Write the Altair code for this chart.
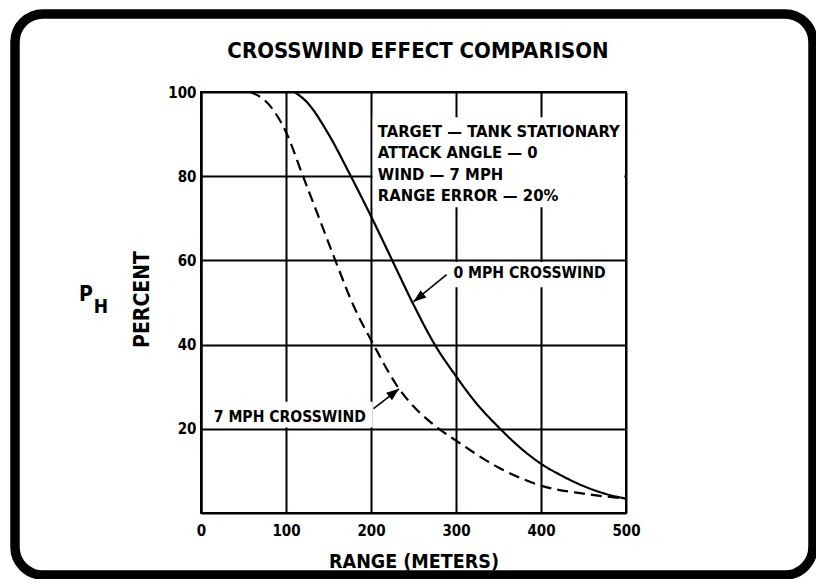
import altair as alt
import pandas as pd

# ---- data ----
ranges_0mph = [110, 125, 150, 175, 200, 225, 250, 275, 300, 325, 350, 375, 400, 425, 450, 475, 500]
ph_0mph = [100, 97.5, 90, 80.5, 70.5, 60, 49.5, 40, 32.5, 25.8, 20.4, 15.6, 11.7, 8.8, 6.4, 4.6, 3.4]

ranges_7mph = [58, 80, 100, 120, 140, 158, 180, 203, 233, 255, 280, 300, 350, 400, 450, 500]
ph_7mph = [100, 97, 90.5, 80, 69.5, 60, 49, 40, 29.5, 24.3, 20, 17.2, 10.8, 6.5, 4.6, 3.4]

x_ticks = [0, 100, 200, 300, 400, 500]
y_ticks = [20, 40, 60, 80, 100]

title_text = "CROSSWIND EFFECT COMPARISON"

note_lines = ["TARGET \u2014 TANK STATIONARY", "ATTACK ANGLE \u2014 0", "WIND \u2014 7 MPH", "RANGE ERROR \u2014 20%"]
note_x = [208, 208, 208, 208]
note_y = [90.4, 85.4, 80.2, 75.2]

label_text = ["0 MPH CROSSWIND", "7 MPH CROSSWIND"]
label_x = [297, 15]
label_y = [56.9, 22.8]

# arrows: tail -> tip
arrow_name = ["0 MPH", "7 MPH"]
arrow_tail_x = [289, 203]
arrow_tail_y = [56.6, 24.8]
arrow_tip_x = [250, 233]
arrow_tip_y = [50.2, 29.5]
arrow_angle = [232, 52]

# white boxes behind the text (grid lines are broken there)
box_x = [202, 290, 10]
box_x2 = [498, 484, 202]
box_y = [72.6, 53.6, 20.3]
box_y2 = [94, 59.6, 26.4]

FONT = "DejaVu Sans Condensed, Liberation Sans Narrow, Roboto, sans-serif"

curves = pd.DataFrame(
    {"range": ranges_0mph + ranges_7mph,
     "ph": ph_0mph + ph_7mph,
     "series": ["0 MPH"] * len(ranges_0mph) + ["7 MPH"] * len(ranges_7mph)}
)
notes = pd.DataFrame({"t": note_lines, "x": note_x, "y": note_y})
labels = pd.DataFrame({"t": label_text, "x": label_x, "y": label_y})
arrows = pd.DataFrame({"name": arrow_name, "x": arrow_tail_x, "y": arrow_tail_y,
                       "x2": arrow_tip_x, "y2": arrow_tip_y, "angle": arrow_angle})
boxes = pd.DataFrame({"x": box_x, "x2": box_x2, "y": box_y, "y2": box_y2})

xs = alt.Scale(domain=[0, 500], nice=False, zero=False)
ys = alt.Scale(domain=[0, 100], nice=False)

x_axis = alt.Axis(values=x_ticks, title="RANGE (METERS)", grid=True, ticks=False, labelFlush=False,
                  labelFont=FONT, labelFontWeight="bold", labelFontSize=15, labelPadding=10,
                  labelColor="black", titleFont=FONT, titleFontWeight="bold", titleFontSize=19.5,
                  titleColor="black", titleY=48, titleBaseline="middle",
                  domainColor="black", domainWidth=2, gridColor="black", gridWidth=2, gridOpacity=1)
y_axis = alt.Axis(values=y_ticks, title="PERCENT", grid=True, ticks=False, labelFlush=False,
                  labelFont=FONT, labelFontWeight="bold", labelFontSize=15, labelPadding=5,
                  labelColor="black", titleFont=FONT, titleFontWeight="bold", titleFontSize=21,
                  titleColor="black", titleAngle=270, titleX=-59, titleY=207,
                  titleAlign="center", titleBaseline="middle",
                  domainColor="black", domainWidth=2, gridColor="black", gridWidth=2, gridOpacity=1)

base = alt.Chart(curves)

frame = alt.Chart(pd.DataFrame({"a": [0]})).mark_rect(
    fill=None, stroke="black", strokeWidth=9.5, cornerRadius=28
).encode(x=alt.value(-186), x2=alt.value(612), y=alt.value(-78), y2=alt.value(483))

box_layer = alt.Chart(boxes).mark_rect(fill="white", stroke=None).encode(
    x=alt.X("x:Q", scale=xs, axis=x_axis), x2="x2:Q",
    y=alt.Y("y:Q", scale=ys, axis=y_axis), y2="y2:Q")

lines = base.mark_line(color="black", strokeWidth=2.2, interpolate="monotone").encode(
    x=alt.X("range:Q", scale=xs, axis=x_axis),
    y=alt.Y("ph:Q", scale=ys, axis=y_axis),
    strokeDash=alt.StrokeDash("series:N", scale=alt.Scale(domain=["0 MPH", "7 MPH"],
                                                          range=[[1, 0], [11, 6]]), legend=None),
    detail="series:N")

note_layer = alt.Chart(notes).mark_text(
    font=FONT, fontWeight="bold", fontSize=16.5, align="left", baseline="middle", color="black"
).encode(x="x:Q", y="y:Q", text="t:N")

label_layer = alt.Chart(labels).mark_text(
    font=FONT, fontWeight="bold", fontSize=15.6, align="left", baseline="middle", color="black"
).encode(x="x:Q", y="y:Q", text="t:N")

shaft = alt.Chart(arrows).mark_rule(color="black", strokeWidth=1.6).encode(
    x="x:Q", y="y:Q", x2="x2:Q", y2="y2:Q")
head = alt.Chart(arrows).mark_point(
    shape="M0,0L-0.75,2L0.75,2Z", filled=True, color="black", opacity=1, size=160
).encode(x="x2:Q", y="y2:Q", angle=alt.Angle("angle:Q", scale=None))

title_layer = alt.Chart(pd.DataFrame({"t": [title_text]})).mark_text(
    font=FONT, fontWeight="bold", fontSize=22, color="black", baseline="middle", align="center"
).encode(x=alt.value(217), y=alt.value(-41), text="t:N")

p_text = alt.Chart(pd.DataFrame({"t": ["P"]})).mark_text(
    font=FONT, fontWeight="bold", fontSize=21, color="black", baseline="middle", align="center"
).encode(x=alt.value(-115), y=alt.value(203), text="t:N")
h_text = alt.Chart(pd.DataFrame({"t": ["H"]})).mark_text(
    font=FONT, fontWeight="bold", fontSize=19, color="black", baseline="middle", align="center"
).encode(x=alt.value(-100), y=alt.value(215), text="t:N")

chart = alt.layer(
    frame, box_layer, lines, note_layer, label_layer, shaft, head, title_layer, p_text, h_text
).properties(
    width=425, height=421,
    autosize=alt.AutoSizeParams(type="none"),
    padding={"left": 193, "top": 84, "right": 190, "bottom": 66},
    background="white",
).configure_view(stroke="black", strokeWidth=2)

chart.save("out.html", embed_options={"renderer": "svg", "actions": False})
